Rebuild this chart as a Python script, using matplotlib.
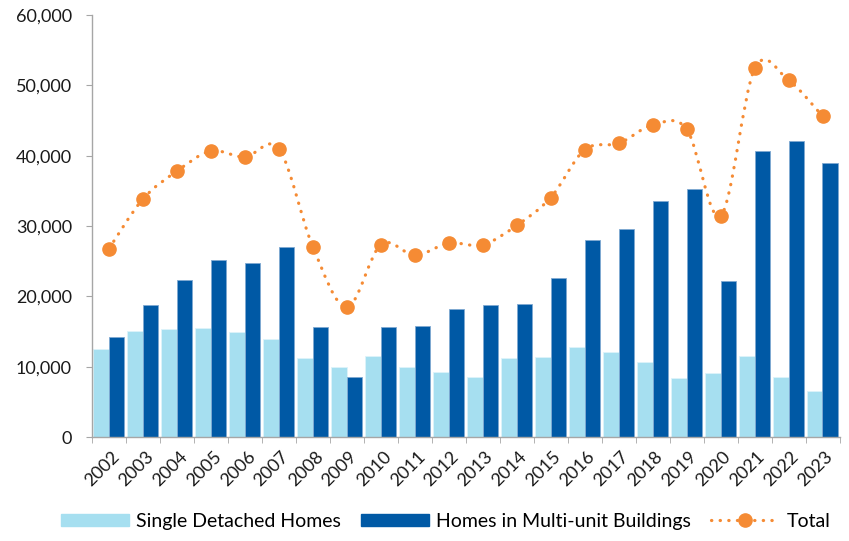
import numpy as np
import matplotlib.pyplot as plt
import matplotlib.transforms as mtransforms
from matplotlib.path import Path
from matplotlib.patches import PathPatch
from matplotlib.lines import Line2D
from matplotlib.ticker import FuncFormatter, FixedLocator

plt.rcParams['font.family'] = ['Lato', 'DejaVu Sans']

years = [str(y) for y in range(2002, 2024)]
single = [12500, 15050, 15350, 15500, 14950, 13950, 11250, 9950, 11550, 9950, 9300,
          8550, 11200, 11400, 12800, 12100, 10650, 8400, 9100, 11550, 8600, 6500]
multi = [14200, 18800, 22300, 25100, 24800, 26950, 15650, 8500, 15600, 15800, 18150,
         18700, 18850, 22550, 27950, 29600, 33500, 35200, 22250, 40700, 42050, 39000]
total = [26800, 33850, 37800, 40650, 39800, 40950, 27000, 18450, 27350, 25850, 27550,
         27350, 30100, 34050, 40850, 41750, 44350, 43750, 31450, 52400, 50700, 45600]

c_single = '#A6DFF0'
c_multi = '#0059A5'
c_total = '#F58B34'

fig = plt.figure(figsize=(8.49, 5.41), dpi=100)
ax = fig.add_axes([0.1084, 0.1922, 0.8806, 0.7801])

x = np.arange(len(years))
w = 0.46
ax.bar(x - 0.235, single, w, color=c_single, edgecolor='#DDF3FA', linewidth=0.6, zorder=2)
ax.bar(x + 0.225, multi, w, color=c_multi, edgecolor='#7FA9D2', linewidth=0.6, zorder=2)

# smoothed total line (Bezier segments through the data points)
pts = np.column_stack([x, total]).astype(float)
verts = [tuple(pts[0])]
codes = [Path.MOVETO]
n = len(pts)
for i in range(n - 1):
    p0 = pts[i - 1] if i > 0 else pts[i]
    p1 = pts[i]
    p2 = pts[i + 1]
    p3 = pts[i + 2] if i + 2 < n else pts[i + 1]
    c1 = p1 + (p2 - p0) / 6.0
    c2 = p2 - (p3 - p1) / 6.0
    verts += [tuple(c1), tuple(c2), tuple(p2)]
    codes += [Path.CURVE4] * 3
curve = PathPatch(Path(verts, codes), facecolor='none', edgecolor=c_total,
                  linewidth=2.3, linestyle=(0, (0.1, 2.6)), capstyle='round', zorder=3)
ax.add_patch(curve)
ax.plot(x, total, linestyle='none', marker='o', markersize=9.5, color=c_total, zorder=4)

ax.set_xlim(-0.5, len(years) - 0.5)
ax.set_ylim(0, 60000)
ax.set_yticks(np.arange(0, 60001, 10000))
ax.yaxis.set_major_formatter(FuncFormatter(lambda v, p: f'{int(v):,}'))
ax.set_xticks(x)
ax.set_xticklabels(years, rotation=45, ha='right', rotation_mode='anchor')
ax.xaxis.set_minor_locator(FixedLocator(np.arange(-0.5, len(years), 1.0)))

for s in ['top', 'right']:
    ax.spines[s].set_visible(False)
for s in ['left', 'bottom']:
    ax.spines[s].set_color('#A6A6A6')
    ax.spines[s].set_linewidth(1.0)
ax.tick_params(axis='y', length=4.5, color='#A6A6A6', labelsize=13, labelcolor='#1a1a1a', pad=10)
ax.tick_params(axis='x', which='major', length=0, labelsize=13, labelcolor='#1a1a1a', pad=8)
ax.tick_params(axis='x', which='minor', length=4.5, color='#A6A6A6')

# nudge the rotated year labels a little to the right
shift = mtransforms.ScaledTranslation(2 / 100, 0, fig.dpi_scale_trans)
for lab in ax.get_xticklabels():
    lab.set_transform(lab.get_transform() + shift)

handles = [
    plt.Rectangle((0, 0), 1, 1, color=c_single),
    plt.Rectangle((0, 0), 1, 1, color=c_multi),
    Line2D([], [], color=c_total, linewidth=2.3, linestyle=(0, (0.1, 2.6)),
           dash_capstyle='round', marker='o', markersize=9.5),
]
labels = ['Single Detached Homes', 'Homes in Multi-unit Buildings', 'Total']
fig.legend(handles, labels, loc='lower center', bbox_to_anchor=(0.525, -0.012), ncol=3,
           frameon=False, fontsize=14, handlelength=3.5, handleheight=0.62,
           handletextpad=0.36, columnspacing=1.03, numpoints=1)

fig.savefig('out.png', dpi=100)
